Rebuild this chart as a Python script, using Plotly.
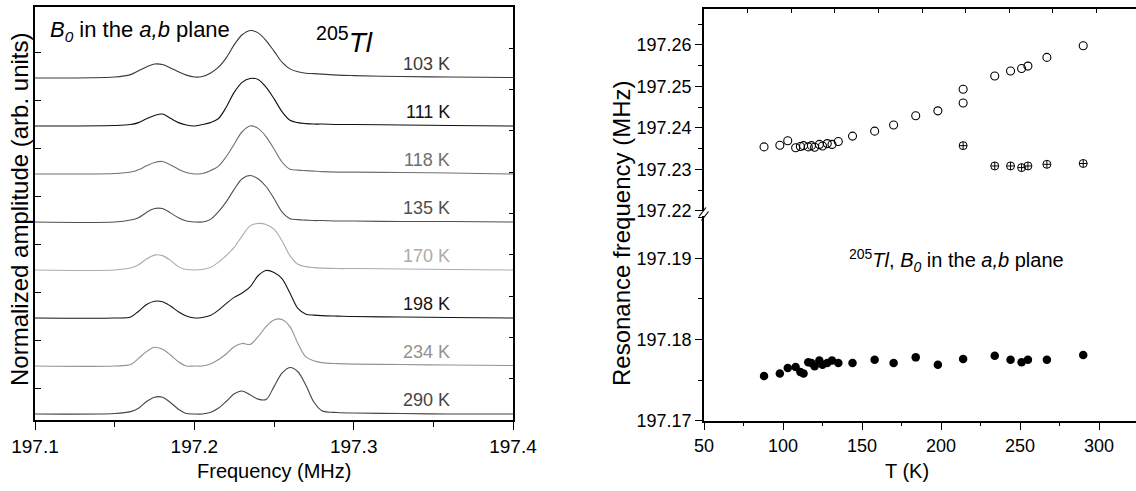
import plotly.graph_objects as go

# ---------------------------------------------------------------- data
# Frequency grid (MHz) of the 205Tl NMR spectra
FREQ = [197.10, 197.15, 197.16, 197.165, 197.17, 197.175, 197.18, 197.185,
        197.19, 197.195, 197.20, 197.205, 197.21, 197.215, 197.22, 197.225,
        197.23, 197.235, 197.24, 197.245, 197.25, 197.255, 197.26, 197.265,
        197.27, 197.275, 197.28, 197.29, 197.30, 197.33, 197.36, 197.40]

# normalized amplitudes, one spectrum per temperature
SPEC_103K = [0.0, 0.02, 0.07, 0.15, 0.23, 0.29, 0.28, 0.21, 0.13, 0.06, 0.02, 0.03,
             0.10, 0.22, 0.42, 0.69, 0.90, 0.99, 0.94, 0.78, 0.56, 0.33, 0.19, 0.13,
             0.10, 0.09, 0.08, 0.06, 0.05, 0.03, 0.02, 0.01]
SPEC_111K = [0.0, 0.01, 0.03, 0.07, 0.15, 0.22, 0.25, 0.16, 0.07, 0.02, 0.0, 0.03,
             0.07, 0.15, 0.39, 0.70, 0.91, 0.99, 0.97, 0.81, 0.57, 0.30, 0.12, 0.07,
             0.05, 0.04, 0.04, 0.03, 0.03, 0.02, 0.01, 0.0]
SPEC_118K = [0.0, 0.01, 0.04, 0.09, 0.17, 0.24, 0.26, 0.19, 0.10, 0.03, 0.0, 0.01,
             0.07, 0.16, 0.36, 0.62, 0.88, 1.0, 0.95, 0.78, 0.52, 0.25, 0.10, 0.08,
             0.07, 0.06, 0.05, 0.04, 0.04, 0.03, 0.02, 0.0]
SPEC_135K = [0.0, 0.0, 0.04, 0.09, 0.20, 0.28, 0.28, 0.19, 0.09, 0.02, 0.0, 0.0,
             0.05, 0.21, 0.42, 0.68, 0.90, 0.97, 0.90, 0.74, 0.49, 0.21, 0.07, 0.05,
             0.04, 0.03, 0.03, 0.02, 0.02, 0.01, 0.01, 0.0]
SPEC_170K = [0.0, 0.0, 0.04, 0.11, 0.23, 0.31, 0.30, 0.20, 0.07, 0.01, 0.0, 0.01,
             0.05, 0.16, 0.30, 0.47, 0.71, 0.92, 0.97, 0.95, 0.85, 0.61, 0.30, 0.12,
             0.07, 0.05, 0.04, 0.03, 0.03, 0.02, 0.01, 0.0]
SPEC_198K = [0.0, 0.0, 0.02, 0.14, 0.28, 0.35, 0.34, 0.25, 0.13, 0.04, 0.0, 0.01,
             0.05, 0.16, 0.30, 0.43, 0.52, 0.65, 0.88, 0.99, 0.95, 0.82, 0.52, 0.20,
             0.08, 0.06, 0.05, 0.04, 0.03, 0.02, 0.01, 0.0]
SPEC_234K = [0.0, 0.0, 0.03, 0.16, 0.30, 0.39, 0.35, 0.23, 0.09, 0.0, 0.0, 0.0,
             0.04, 0.13, 0.25, 0.40, 0.47, 0.45, 0.61, 0.82, 0.96, 0.97, 0.82, 0.47,
             0.19, 0.11, 0.07, 0.05, 0.04, 0.03, 0.02, 0.01]
SPEC_290K = [0.0, 0.01, 0.05, 0.12, 0.26, 0.35, 0.35, 0.24, 0.10, 0.01, 0.0, 0.0,
             0.03, 0.12, 0.26, 0.42, 0.48, 0.40, 0.31, 0.30, 0.57, 0.85, 0.97, 0.88,
             0.60, 0.25, 0.07, 0.03, 0.02, 0.01, 0.0, 0.0]

SPEC_LABELS = ["103 K", "111 K", "118 K", "135 K", "170 K", "198 K", "234 K", "290 K"]
SPECTRA = [SPEC_103K, SPEC_111K, SPEC_118K, SPEC_135K,
           SPEC_170K, SPEC_198K, SPEC_234K, SPEC_290K]

# Resonance frequency vs temperature
T_OPEN = [88, 98, 103, 108, 111, 113, 116, 118, 120, 123, 125, 128, 131, 135,
          144, 158, 170, 184, 198, 214, 214, 234, 244, 251, 255, 267, 290]
F_OPEN = [197.2354, 197.2358, 197.2369, 197.2352, 197.2355, 197.2357, 197.2354,
          197.2357, 197.2353, 197.2360, 197.2356, 197.2362, 197.2360, 197.2367,
          197.2380, 197.2392, 197.2407, 197.2429, 197.2441, 197.2460, 197.2493,
          197.2525, 197.2537, 197.2543, 197.2549, 197.2570, 197.2598]

T_CROSS = [214, 234, 244, 251, 255, 267, 290]
F_CROSS = [197.2357, 197.2308, 197.2308, 197.2304, 197.2308, 197.2312, 197.2314]

T_FILLED = [88, 98, 103, 108, 111, 113, 116, 118, 120, 123, 125, 128, 131, 135,
            144, 158, 170, 184, 198, 214, 234, 244, 251, 255, 267, 290]
F_FILLED = [197.1755, 197.1758, 197.1765, 197.1766, 197.1760, 197.1758, 197.1772,
            197.1771, 197.1767, 197.1774, 197.1769, 197.1771, 197.1774, 197.1771,
            197.1771, 197.1775, 197.1771, 197.1778, 197.1769, 197.1776, 197.1780,
            197.1775, 197.1772, 197.1775, 197.1775, 197.1781]

# ---------------------------------------------------------------- style
W, H = 1136, 491
FONT = "Liberation Sans, Arial, sans-serif"
LINE_COLORS = ["#3a3a3a", "#111111", "#707070", "#505050",
               "#ababab", "#151515", "#939393", "#454545"]


def fx(p):
    return p / W


def fy(p):
    return 1 - p / H


def note(x, y, text, size, **kw):
    """Free text placed in figure pixels (centre by default)."""
    opts = dict(xanchor="center", yanchor="middle")
    opts.update(kw)
    fig.add_annotation(x=fx(x), y=fy(y), xref="paper", yref="paper",
                       text=text, showarrow=False,
                       font=dict(size=size, family=FONT, color="black"), **opts)


fig = go.Figure()

# stacked spectra, each shifted up by one unit
n = len(SPECTRA)
for i, (spec, col) in enumerate(zip(SPECTRA, LINE_COLORS)):
    shift = n - 1 - i
    fig.add_trace(go.Scatter(
        x=FREQ, y=[v + shift for v in spec], mode="lines",
        line=dict(color=col, width=1.1, shape="spline", smoothing=0.9),
        xaxis="x", yaxis="y", hoverinfo="skip"))
    fig.add_annotation(
        x=197.362, y=shift + 0.30, xref="x", yref="y", text=SPEC_LABELS[i],
        showarrow=False, xanchor="right", yanchor="middle",
        font=dict(size=18, color=col, family=FONT))

# empty trace so the right-hand tick axis of the left panel is drawn
fig.add_trace(go.Scatter(x=[], y=[], xaxis="x", yaxis="y2"))

# upper branch: open and crossed circles
fig.add_trace(go.Scatter(
    x=T_OPEN, y=F_OPEN, mode="markers", xaxis="x2", yaxis="y4",
    marker=dict(symbol="circle-open", size=8, color="black", line=dict(width=1.1))))
fig.add_trace(go.Scatter(
    x=T_CROSS, y=F_CROSS, mode="markers", xaxis="x2", yaxis="y4",
    marker=dict(symbol="circle-cross-open", size=8, color="black", line=dict(width=1.0))))
# lower branch: filled circles
fig.add_trace(go.Scatter(
    x=T_FILLED, y=F_FILLED, mode="markers", xaxis="x2", yaxis="y3",
    marker=dict(symbol="circle", size=8.5, color="black")))
fig.add_trace(go.Scatter(x=[], y=[], xaxis="x3", yaxis="y4"))

axis_common = dict(showgrid=False, zeroline=False, showline=True, automargin=False,
                   linecolor="black", linewidth=1.5, tickcolor="black",
                   tickwidth=1.2)

fig.update_layout(
    width=W, height=H, margin=dict(l=0, r=0, t=0, b=0, autoexpand=False),
    plot_bgcolor="white", paper_bgcolor="white", showlegend=False,
    font=dict(family=FONT, color="black"),
    # ---------------- left panel
    xaxis=dict(**axis_common, domain=[fx(35), fx(513)], range=[197.1, 197.4],
               anchor="y", mirror=True, ticks="outside", ticklen=8,
               tick0=197.1, dtick=0.1, tickformat=".1f",
               tickfont=dict(size=19),
               minor=dict(ticks="outside", ticklen=5, dtick=0.05, tick0=197.1,
                          tickcolor="black", tickwidth=1.2)),
    yaxis=dict(**axis_common, domain=[fy(420), fy(7)], range=[-0.125, 8.479],
               anchor="x", ticks="inside", ticklen=6, tick0=0.54, dtick=1,
               showticklabels=False),
    yaxis2=dict(**axis_common, overlaying="y", side="right", anchor="x",
                range=[0, 10], ticks="inside", ticklen=4, dtick=1,
                showticklabels=False),
    # ---------------- right panel
    xaxis2=dict(**axis_common, domain=[fx(704), 1.0], range=[50, 323.4],
                anchor="y3", ticks="outside", ticklen=8, dtick=50,
                tickfont=dict(size=18),
                minor=dict(ticks="outside", ticklen=4, dtick=25, tick0=50,
                           tickcolor="black", tickwidth=1.2)),
    xaxis3=dict(**axis_common, overlaying="x2", anchor="y4", side="top",
                range=[0, 9.908], ticks="inside", ticklen=4, dtick=1,
                showticklabels=False),
    yaxis3=dict(**axis_common, domain=[fy(420.7), fy(213)],
                range=[197.17, 197.19558], anchor="x2",
                ticks="outside", ticklen=7, tick0=197.17, dtick=0.01,
                tickformat=".2f", tickfont=dict(size=18),
                minor=dict(ticks="outside", ticklen=4, dtick=0.005, tick0=197.17,
                           tickcolor="black", tickwidth=1.2)),
    yaxis4=dict(**axis_common, domain=[fy(213), fy(9.3)],
                range=[197.21945, 197.2686], anchor="x2",
                ticks="outside", ticklen=7, tick0=197.22, dtick=0.01,
                tickformat=".2f", tickfont=dict(size=18),
                minor=dict(ticks="outside", ticklen=4, dtick=0.005, tick0=197.22,
                           tickcolor="black", tickwidth=1.2)),
)

# axis titles and panel notes
note(274, 471, "Frequency (MHz)", 20)
note(19, 210, "Normalized amplitude (arb. units)", 24, textangle=-90)
note(48, 31, "<i>B<sub>0</sub></i> in the <i>a,b</i> plane", 22, xanchor="left")
note(314, 40, "<sup>205</sup><i>Tl</i>", 28, xanchor="left")

note(907, 471, "T (K)", 20)
note(621, 234, "Resonance frequency (MHz)", 24, textangle=-90)
note(847, 260, "<sup>205</sup><i>Tl</i>, <i>B<sub>0</sub></i> in the <i>a,b</i> plane",
     20, xanchor="left")

# axis break marks on the right panel
fig.add_shape(type="rect", xref="paper", yref="paper",
              x0=fx(702), x1=fx(706), y0=fy(216), y1=fy(211),
              fillcolor="white", line=dict(width=0))
for (xa, ya, xb, yb) in [(699, 216.5, 706, 207.5), (701.5, 220.5, 708.5, 211.5)]:
    fig.add_shape(type="line", xref="paper", yref="paper",
                  x0=fx(xa), y0=fy(ya), x1=fx(xb), y1=fy(yb),
                  line=dict(color="black", width=1.2))

fig.write_html("out.html", config={"displayModeBar": False},
               post_script="document.body.style.margin='0';")
